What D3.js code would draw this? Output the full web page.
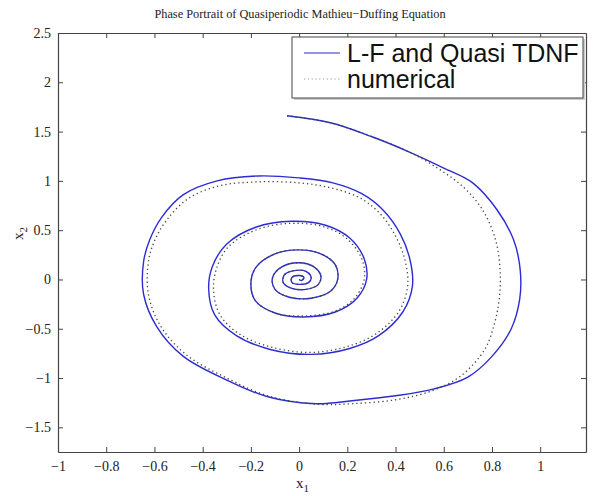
<!DOCTYPE html>
<html>
<head>
<meta charset="utf-8">
<script src="https://cdn.jsdelivr.net/npm/d3@7"></script>
<style>
	body { margin: 0; background: #fff; }
	svg { display: block; }
	.tick text { font-family: 'Liberation Serif', 'Times New Roman', serif; font-size: 14px; fill: #222; }
</style>
</head>
<body>
<svg id="chart"></svg>
<script>
// L-F and Quasi TDNF solution (x1, x2)
const lfX1 = [-0.05, 0.13, 0.30, 0.46, 0.60, 0.72, 0.82, 0.89, 0.917, 0.915, 0.88, 0.80, 0.70, 0.56, 0.40, 0.22, 0.07, -0.13, -0.30, -0.48, -0.59, -0.645, -0.645, -0.62, -0.57, -0.48, -0.34, -0.17, 0.0, 0.14, 0.26, 0.35, 0.42, 0.46, 0.47, 0.43, 0.33, 0.21, 0.05, -0.12, -0.26, -0.35, -0.375, -0.36, -0.30, -0.18, -0.03, 0.11, 0.21, 0.27, 0.28, 0.24, 0.15, 0.02, -0.10, -0.18, -0.20, -0.18, -0.10, 0.00, 0.09, 0.15, 0.16, 0.13, 0.05, -0.04, -0.10, -0.11, -0.07, 0.00, 0.06, 0.09, 0.08, 0.03, -0.03, -0.066, -0.06, -0.02, 0.03, 0.05, 0.04, 0.00, -0.03, -0.03, 0.00, 0.02, 0.01, 0.00];
const lfX2 = [1.66, 1.59, 1.45, 1.29, 1.13, 0.98, 0.71, 0.40, 0.10, -0.20, -0.50, -0.78, -0.99, -1.11, -1.18, -1.23, -1.26, -1.19, -1.02, -0.78, -0.48, -0.15, 0.18, 0.40, 0.63, 0.86, 1.00, 1.05, 1.03, 0.98, 0.87, 0.70, 0.46, 0.20, -0.07, -0.33, -0.57, -0.70, -0.76, -0.71, -0.57, -0.36, -0.10, 0.13, 0.36, 0.53, 0.59, 0.55, 0.42, 0.21, 0.00, -0.19, -0.33, -0.38, -0.34, -0.22, -0.05, 0.12, 0.26, 0.30, 0.26, 0.15, 0.00, -0.12, -0.19, -0.18, -0.10, 0.02, 0.13, 0.17, 0.13, 0.04, -0.05, -0.10, -0.09, -0.03, 0.05, 0.09, 0.08, 0.02, -0.03, -0.05, -0.03, 0.02, 0.04, 0.02, -0.01, 0.00];

// numerical solution (x1, x2)
const numX1 = [-0.05, 0.13, 0.30, 0.46, 0.58, 0.68, 0.76, 0.815, 0.834, 0.83, 0.81, 0.77, 0.67, 0.55, 0.40, 0.22, 0.07, -0.13, -0.30, -0.47, -0.575, -0.625, -0.625, -0.60, -0.55, -0.46, -0.33, -0.17, 0.0, 0.13, 0.25, 0.335, 0.40, 0.44, 0.45, 0.415, 0.32, 0.20, 0.05, -0.11, -0.25, -0.33, -0.355, -0.34, -0.29, -0.17, -0.03, 0.11, 0.20, 0.26, 0.27, 0.23, 0.15, 0.02, -0.10, -0.18, -0.20, -0.18, -0.10, 0.00, 0.09, 0.15, 0.16, 0.13, 0.05, -0.04, -0.10, -0.11, -0.07, 0.00, 0.06, 0.09, 0.08, 0.03, -0.03, -0.066, -0.06, -0.02, 0.03, 0.05, 0.04, 0.00, -0.03, -0.03, 0.00, 0.02, 0.01, 0.00];
const numX2 = [1.66, 1.59, 1.45, 1.29, 1.12, 0.94, 0.71, 0.40, 0.08, -0.20, -0.45, -0.71, -0.98, -1.13, -1.22, -1.26, -1.265, -1.18, -1.00, -0.76, -0.47, -0.15, 0.18, 0.39, 0.60, 0.82, 0.95, 0.99, 0.98, 0.93, 0.83, 0.67, 0.44, 0.19, -0.07, -0.32, -0.55, -0.68, -0.74, -0.69, -0.55, -0.35, -0.10, 0.13, 0.34, 0.51, 0.57, 0.53, 0.41, 0.21, 0.00, -0.19, -0.32, -0.37, -0.34, -0.22, -0.05, 0.12, 0.26, 0.30, 0.26, 0.15, 0.00, -0.12, -0.19, -0.18, -0.10, 0.02, 0.13, 0.17, 0.13, 0.04, -0.05, -0.10, -0.09, -0.03, 0.05, 0.09, 0.08, 0.02, -0.03, -0.05, -0.03, 0.02, 0.04, 0.02, -0.01, 0.00];

const xTicks = [-1, -0.8, -0.6, -0.4, -0.2, 0, 0.2, 0.4, 0.6, 0.8, 1];
const yTicks = [-1.5, -1, -0.5, 0, 0.5, 1, 1.5, 2, 2.5];
const legendLabels = ['L-F and Quasi TDNF', 'numerical'];

const width = 593, height = 496;
const margin = { top: 33, right: 7, bottom: 44, left: 58 };

const svg = d3.select('#chart').attr('width', width).attr('height', height);

const x = d3.scaleLinear().domain([-1, 1.19]).range([margin.left, width - margin.right]);
const y = d3.scaleLinear().domain([-1.75, 2.5]).range([height - margin.bottom, margin.top]);

const fmt = d => String(d).replace('-', '\u2212');
const tickLen = 5;

// axes, ticks pointing inward like matlab
const axisColor = '#444';
const bottomAxis = d3.axisBottom(x).tickValues(xTicks).tickFormat(fmt).tickSizeInner(-tickLen).tickSizeOuter(0).tickPadding(9);
const topAxis = d3.axisTop(x).tickValues(xTicks).tickFormat('').tickSizeInner(-tickLen).tickSizeOuter(0);
const leftAxis = d3.axisLeft(y).tickValues(yTicks).tickFormat(fmt).tickSizeInner(-tickLen).tickSizeOuter(0).tickPadding(7);
const rightAxis = d3.axisRight(y).tickValues(yTicks).tickFormat('').tickSizeInner(-tickLen).tickSizeOuter(0);

const gAxes = [
	svg.append('g').attr('transform', `translate(0,${y.range()[0]})`).call(bottomAxis),
	svg.append('g').attr('transform', `translate(0,${y.range()[1]})`).call(topAxis),
	svg.append('g').attr('transform', `translate(${x.range()[0]},0)`).call(leftAxis),
	svg.append('g').attr('transform', `translate(${x.range()[1]},0)`).call(rightAxis)
];
gAxes.forEach(g => {
	g.select('.domain').attr('stroke', axisColor).attr('stroke-width', 1.2);
	g.selectAll('.tick line').attr('stroke', axisColor);
});

// curves
const line = d3.line().x(d => x(d[0])).y(d => y(d[1])).curve(d3.curveCatmullRom.alpha(0.5));
const lfData = lfX1.map((v, i) => [v, lfX2[i]]);
const numData = numX1.map((v, i) => [v, numX2[i]]);

svg.append('path').datum(lfData).attr('d', line)
	.attr('fill', 'none').attr('stroke', '#2c2cd2').attr('stroke-width', 1.4);
svg.append('path').datum(numData).attr('d', line)
	.attr('fill', 'none').attr('stroke', '#444').attr('stroke-width', 1.3).attr('stroke-dasharray', '1.3,3');

// title + axis labels
svg.append('text').attr('x', 300).attr('y', 18).attr('text-anchor', 'middle')
	.style('font-family', "'Liberation Serif', serif").style('font-size', '12.3px').attr('fill', '#222')
	.text('Phase Portrait of Quasiperiodic Mathieu\u2212Duffing Equation');

const xl = svg.append('text').attr('x', 296).attr('y', 488)
	.style('font-family', "'Liberation Serif', serif").style('font-size', '15px').attr('fill', '#222');
xl.append('tspan').text('x');
xl.append('tspan').attr('dy', 4).style('font-size', '11px').text('1');

const yl = svg.append('text').attr('transform', 'translate(23,240) rotate(-90)')
	.style('font-family', "'Liberation Serif', serif").style('font-size', '15px').attr('fill', '#222');
yl.append('tspan').text('x');
yl.append('tspan').attr('dy', 4).style('font-size', '11px').text('2');

// legend
const legend = svg.append('g').attr('transform', 'translate(292,37)');
legend.append('rect').attr('x', 2).attr('y', 2).attr('width', 291).attr('height', 61).attr('fill', '#ccc');
legend.append('rect').attr('width', 291).attr('height', 61).attr('fill', '#fff').attr('stroke', '#444').attr('stroke-width', 1);
legendLabels.forEach((lab, i) => {
	const ly = 16 + i * 26;
	legend.append('line').attr('x1', 12).attr('x2', 48).attr('y1', ly).attr('y2', ly)
		.attr('stroke', i === 0 ? '#7070e0' : '#999').attr('stroke-width', i === 0 ? 1.4 : 1.2)
		.attr('stroke-dasharray', i === 0 ? null : '1.2,2.6');
	legend.append('text').attr('x', 55).attr('y', ly + 9)
		.style('font-family', "'Liberation Sans', Arial, sans-serif").style('font-size', '25px').attr('fill', '#111')
		.text(lab);
});
</script>
</body>
</html>
